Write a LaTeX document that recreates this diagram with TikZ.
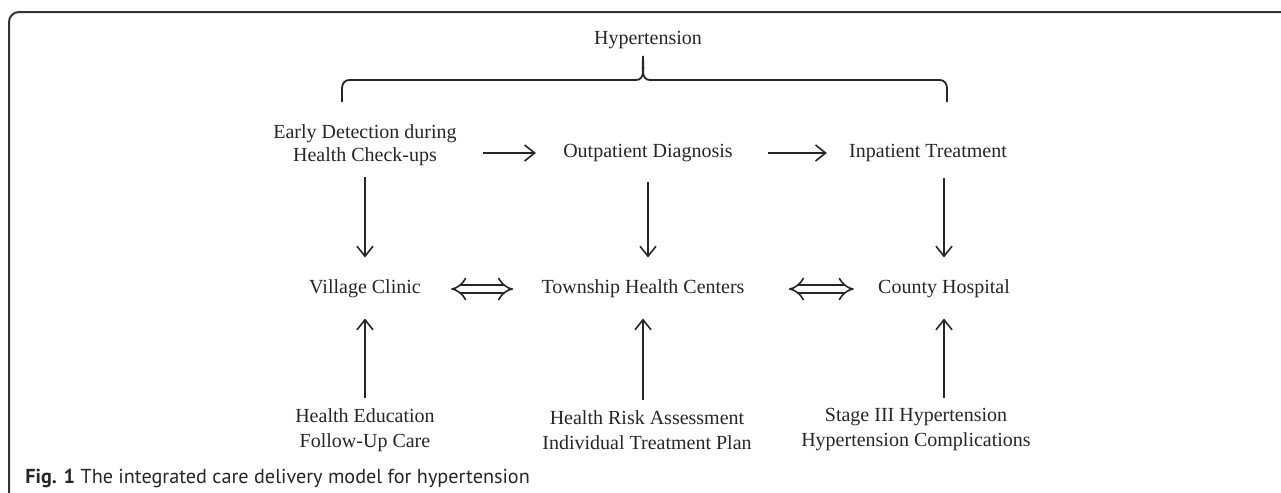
\documentclass[tikz,border=0pt]{standalone}
\usepackage{fontspec}
\setmainfont{Liberation Serif}
\newfontfamily\capfont{PT Sans}
\usetikzlibrary{arrows.meta,positioning}
\tikzset{
  basic/.style  = {inner sep=0pt, align=center, text=black!85,
                   font=\fontsize{10}{11.5}\selectfont},
  lower/.style  = {basic, font=\fontsize{10}{12.5}\selectfont},
  flow/.style   = {-{Straight Barb[length=5pt,width=8pt]}, line width=0.8pt, black!85},
  link/.style   = {{Implies}-{Implies}, double, double distance=3.2pt,
                   line width=0.8pt, black!85},
  frame/.style  = {line width=1pt, black!80, rounded corners=5pt}
}

\begin{document}
\begin{tikzpicture}[x=0.5pt, y=-0.5pt]
\useasboundingbox (0,0) rectangle (1281,493);

% marco
\draw[frame] (9,500) -- (9,12) -- (1300,12);

% llave superior
\node[basic] (hyp) at (648,40) {Hypertension};
\draw[line width=0.9pt, black!85] (342,102) -- (342,88) to[out=90,in=180] (349,80)
  -- (636,80) to[out=0,in=-90] (643,56) to[out=-90,in=180] (650,80)
  -- (940,80) to[out=0,in=90] (947,88) -- (947,102);

% primer nivel
\node[basic] (early) at (365,145) {Early Detection during\\Health Check-ups};
\node[basic] (out) at (648,153) {Outpatient Diagnosis};
\node[basic] (inp) at (928,153) {Inpatient Treatment};

% segundo nivel
\node[basic] (village) at (365,289) {Village Clinic};
\node[basic] (town) at (643,289) {Township Health Centers};
\node[basic] (county) at (944,289) {County Hospital};

% tercer nivel
\node[lower] (educ) at (365,430) {Health Education\\Follow-Up Care};
\node[lower] (risk) at (647,430) {Health Risk Assessment\\Individual Treatment Plan};
\node[lower] (stage) at (916,430) {Stage III Hypertension\\Hypertension Complications};

% pie
\node[anchor=west, inner sep=0pt, text=black!85,
      font=\capfont\fontsize{10.1}{12}\selectfont] (caption) at (25,478)
  {\textbf{Fig. 1} The integrated care delivery model for hypertension};

\draw[flow, shorten <=13pt, shorten >=13.5pt] (out.west -| early.east) -- (out.west);
\draw[flow, shorten <=17.5pt, shorten >=11pt] (out.east) -- (inp.west);

\draw[flow, shorten <=5.5pt, shorten >=11pt] (early.south) -- (village.north);
\draw[flow, shorten <=10pt, shorten >=11pt] (out.south) -- (out.south |- town.north);
\draw[flow, shorten <=8pt, shorten >=11pt] (county.north |- inp.south) -- (county.north);

\foreach \a/\b in {educ/village, risk/town}
  \draw[flow, shorten <=5pt, shorten >=10pt] (\a.north -| \b.south) -- (\b.south);
\draw[flow, shorten <=5pt, shorten >=10pt] (stage.north -| county.south) -- (county.south);

\draw[link, shorten <=15pt, shorten >=14pt] (village) -- (town);
\draw[link, shorten <=22pt, shorten >=12pt] (town) -- (county);
\end{tikzpicture}
\end{document}
